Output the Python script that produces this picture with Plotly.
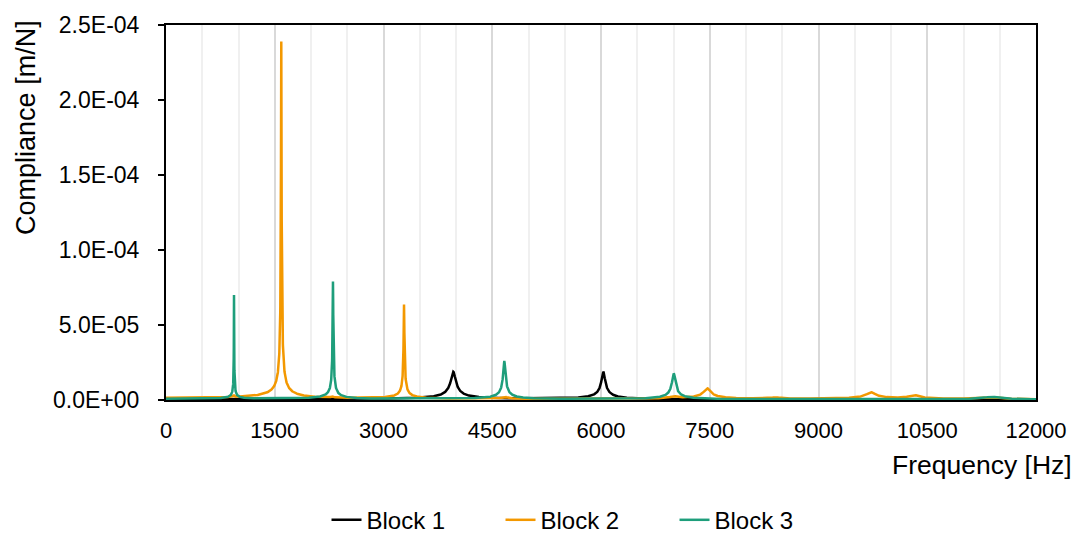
import numpy as np
import plotly.graph_objects as go

# Measured modal parameters for each block: natural frequency [Hz],
# peak compliance [m/N] and damping ratio [-]
block1_freq = [3963, 5120, 6032]
block1_peak = [1.85e-5, 6.0e-7, 1.85e-5]
block1_zeta = [0.008, 0.010, 0.004]

block2_freq = [935, 1590, 2290, 3283, 4670, 7000, 7466, 8410, 9724, 10317, 11390]
block2_peak = [1.5e-6, 2.384e-4, 1.0e-6, 6.3e-5, 1.5e-6, 1.5e-6, 7.2e-6, 1.0e-6, 4.6e-6, 2.6e-6, 1.5e-6]
block2_zeta = [0.004, 0.0022, 0.004, 0.0015, 0.008, 0.006, 0.006, 0.006, 0.006, 0.006, 0.008]

block3_freq = [938, 2303, 4666, 7003, 11389]
block3_peak = [6.94e-5, 7.85e-5, 2.57e-5, 1.75e-5, 2.0e-6]
block3_zeta = [0.0018, 0.0018, 0.003, 0.003, 0.010]

series_names = ["Block 1", "Block 2", "Block 3"]
series_colors = ["#000000", "#F39800", "#1E9E7B"]

y_tick_vals = [0, 5e-5, 1e-4, 1.5e-4, 2e-4, 2.5e-4]
y_tick_text = ["0.0E+00", "5.0E-05", "1.0E-04", "1.5E-04", "2.0E-04", "2.5E-04"]
x_tick_vals = [0, 1500, 3000, 4500, 6000, 7500, 9000, 10500, 12000]
x_tick_text = ["0", "1500", "3000", "4500", "6000", "7500", "9000", "10500", "12000"]

freq = np.arange(0, 12001, 1.0)


def frf(freqs, peaks, zetas):
    """Compliance magnitude as a superposition of single-DOF modes."""
    h = np.zeros_like(freq)
    for fn, a, z in zip(freqs, peaks, zetas):
        r = freq / fn
        h += a * 2 * z / np.sqrt((1 - r ** 2) ** 2 + (2 * z * r) ** 2)
    return h


curves = [
    frf(block1_freq, block1_peak, block1_zeta),
    frf(block2_freq, block2_peak, block2_zeta),
    frf(block3_freq, block3_peak, block3_zeta),
]

font = "Arial, Liberation Sans, sans-serif"

fig = go.Figure()
for name, color, y in zip(series_names, series_colors, curves):
    fig.add_trace(go.Scatter(x=freq, y=y, mode="lines", name=name,
                             line=dict(color=color, width=2.5)))

fig.update_layout(
    width=1090, height=533,
    margin=dict(l=166, r=54, t=18, b=133),
    plot_bgcolor="white", paper_bgcolor="white",
    font=dict(family=font, size=22, color="#000000"),
    showlegend=True,
    legend=dict(orientation="h", xref="container", yref="container",
                x=0.539, xanchor="center", y=0.024, yanchor="middle",
                font=dict(size=24), entrywidth=129, entrywidthmode="pixels",
                traceorder="normal"),
    annotations=[
        dict(text="Compliance [m/N]", xref="paper", yref="paper",
             x=-0.161, y=0.728, xanchor="center", yanchor="middle",
             textangle=-90, showarrow=False, font=dict(size=27)),
        dict(text="Frequency [Hz]", xref="paper", yref="paper",
             x=1.044, y=-0.173, xanchor="right", yanchor="middle",
             showarrow=False, font=dict(size=26.5)),
    ],
)

fig.update_xaxes(
    range=[0, 12000], tickvals=x_tick_vals, ticktext=x_tick_text,
    tickfont=dict(size=22),
    showline=True, linecolor="#000000", linewidth=2, mirror=True,
    ticks="outside", ticklen=10, tickcolor="rgba(0,0,0,0)",
    showgrid=True, gridcolor="#D9D9D9", gridwidth=2,
    minor=dict(dtick=500, showgrid=True, gridcolor="#F0F0F0", gridwidth=2),
    zeroline=False,
)
fig.update_yaxes(
    range=[0, 2.5e-4], tickvals=y_tick_vals, ticktext=y_tick_text,
    tickfont=dict(size=23),
    showline=True, linecolor="#000000", linewidth=2, mirror=True,
    ticks="outside", ticklen=6, tickcolor="#000000", tickwidth=1.5,
    ticklabelstandoff=14,
    showgrid=False, zeroline=False,
)

fig.write_html("out.html")
